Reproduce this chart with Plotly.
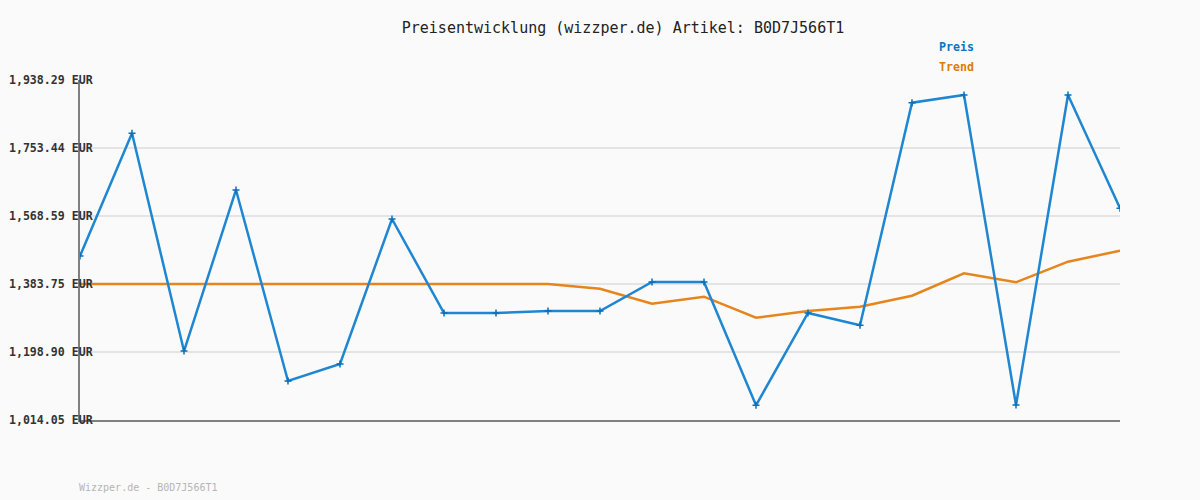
import plotly.graph_objects as go

# --- data ---
idx = list(range(21))
preis = [1459.9, 1793.4, 1201.6, 1639.3, 1120.1, 1166.3, 1560.4, 1304.9, 1304.9, 1310.4,
         1310.4, 1389.2, 1389.2, 1054.0, 1304.9, 1271.5, 1876.6, 1897.5, 1054.8, 1897.5, 1589.5]
trend = [1383.75, 1383.75, 1383.75, 1383.75, 1383.75, 1383.75, 1383.75, 1383.75, 1383.75, 1383.75,
         1371.0, 1330.2, 1349.2, 1292.1, 1310.4, 1322.0, 1351.9, 1412.8, 1388.3, 1444.4, 1474.2]
tick_vals = [1014.05, 1198.90, 1383.75, 1568.59, 1753.44, 1938.29]
tick_text = ["1,014.05 EUR", "1,198.90 EUR", "1,383.75 EUR", "1,568.59 EUR", "1,753.44 EUR", "1,938.29 EUR"]

BLUE = "#1f86d1"
BLUE_DARK = "#0a6fbd"
ORANGE = "#e5851c"
MONO = "DejaVu Sans Mono"

fig = go.Figure()
fig.add_trace(go.Scatter(x=idx, y=trend, mode="lines", name="Trend",
                         line=dict(color=ORANGE, width=2.5), showlegend=False))
fig.add_trace(go.Scatter(x=idx, y=preis, mode="lines+markers", name="Preis",
                         line=dict(color=BLUE, width=2.5),
                         marker=dict(symbol="cross-thin", size=5, color=BLUE_DARK,
                                     line=dict(color=BLUE_DARK, width=1.5)),
                         showlegend=False))

fig.update_layout(
    width=1200, height=500,
    paper_bgcolor="#fafafa", plot_bgcolor="#fafafa",
    margin=dict(l=80, r=80, t=80, b=80, pad=0),
    title=dict(text="Preisentwicklung (wizzper.de) Artikel: B0D7J566T1",
               x=623/1200, xanchor="center", y=1-28/500, yanchor="middle",
               font=dict(family=MONO, size=15, color="#222")),
    xaxis=dict(range=[0, 20], showticklabels=False, showgrid=False, zeroline=False,
               showline=True, linecolor="#808080", linewidth=2, ticks="", automargin=False),
    yaxis=dict(range=[1014.05, 1938.29], tickvals=tick_vals, ticktext=tick_text,
               showgrid=True, gridcolor="#e4e4e4", gridwidth=2, zeroline=False,
               showline=True, linecolor="#808080", linewidth=2, ticks="",
               ticklabelstandoff=-17, automargin=False,
               tickfont=dict(family=MONO, size=11.6, color="#333", weight="bold")),
)

fig.add_annotation(text="<b>Preis</b>", xref="paper", yref="paper",
                   x=(937-80)/1040, y=(420-47)/340, xanchor="left", yanchor="middle",
                   showarrow=False, font=dict(family=MONO, size=11.6, color="#0a74c4"))
fig.add_annotation(text="<b>Trend</b>", xref="paper", yref="paper",
                   x=(937-80)/1040, y=(420-67)/340, xanchor="left", yanchor="middle",
                   showarrow=False, font=dict(family=MONO, size=11.6, color="#e07b00"))
fig.add_annotation(text="Wizzper.de - B0D7J566T1", xref="paper", yref="paper",
                   x=(77-80)/1040, y=(420-487)/340, xanchor="left", yanchor="middle",
                   showarrow=False, font=dict(family=MONO, size=10, color="#b5b5b5"))

fig.write_html("out.html", config={"displayModeBar": False},
               post_script="document.body.style.margin='0';document.body.style.background='#fafafa';")
